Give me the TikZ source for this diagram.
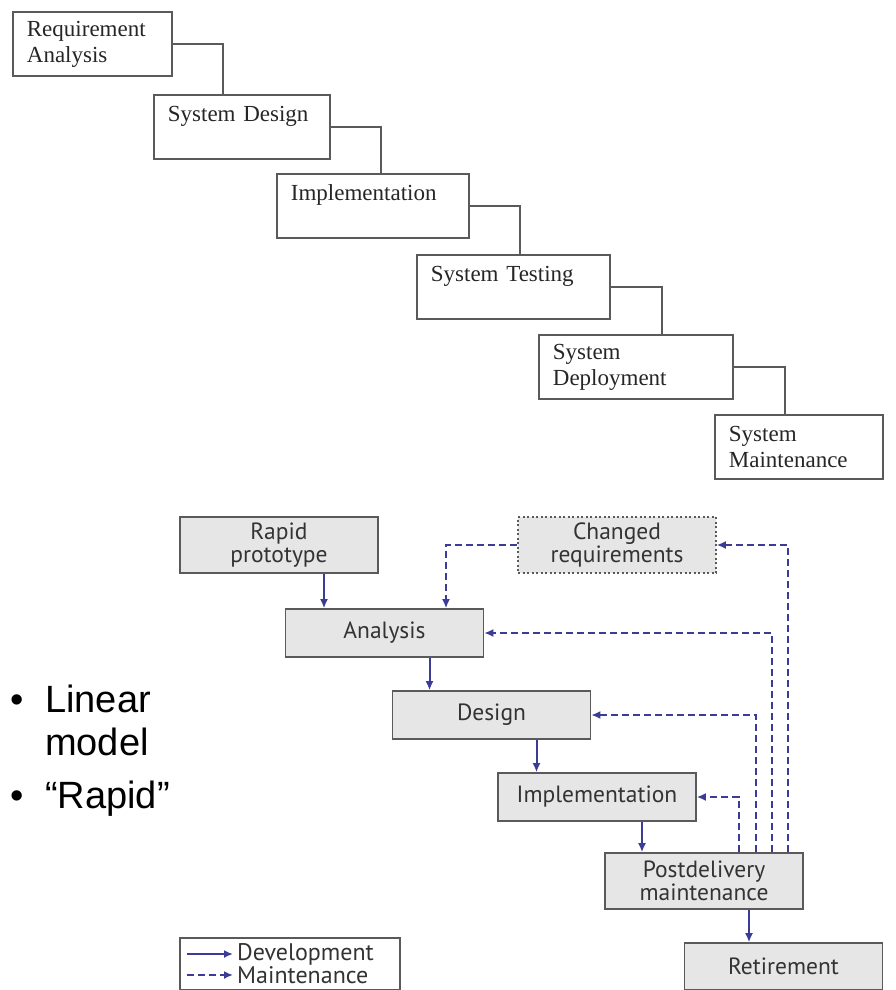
\documentclass[tikz,border=0pt]{standalone}
\usepackage{fontspec}
\usepackage{xcolor}
\usepackage{tikz}
\usetikzlibrary{positioning, arrows.meta}
\newfontfamily\stagefont{Liberation Serif}
\newfontfamily\phasefont{PT Sans}
\newfontfamily\slidefont{Liberation Sans}
\definecolor{flowblue}{RGB}{58,60,150}
\definecolor{boxfill}{RGB}{230,230,230}
\definecolor{boxedge}{RGB}{90,90,90}

\begin{document}
\begin{tikzpicture}[
  x=1pt, y=-1pt, >=Latex,
  stage/.style={draw=boxedge, line width=1.8pt, anchor=north west, align=left,
                minimum height=64pt, inner xsep=14pt, text=black!85,
                font=\stagefont\fontsize{23}{26}\selectfont},
  link/.style={draw=boxedge, line width=1.8pt},
  phase/.style={draw=boxedge, fill=boxfill, line width=1.6pt, align=center,
                minimum width=198pt, minimum height=48pt, text=black!80,
                font=\phasefont\fontsize{23.5}{23}\selectfont},
  chg/.style={phase, dash pattern=on 2pt off 2.5pt},
  dev/.style={flowblue, line width=2pt, arrows={-Latex[length=9pt, width=8pt]}},
  mnt/.style={dev, dash pattern=on 7pt off 4pt},
  legbox/.style={draw=boxedge, line width=1.6pt, minimum width=220pt, minimum height=52pt},
  legtext/.style={inner sep=0pt, text=black!80, font=\phasefont\fontsize{24}{24}\selectfont},
  slide/.style={inner sep=0pt, font=\slidefont\fontsize{38}{43}\selectfont},
]
\useasboundingbox (0,0) rectangle (895,990);

% --- waterfall ---
\node[stage, text width=131pt] (ra) at (12,11) {Requirement\\Analysis};
\node[stage, text width=148pt] (sd) at (153,94) {System Design\\\mbox{}};
\node[stage, text width=164pt] (im) at (276,173) {Implementation\\\mbox{}};
\node[stage, text width=165pt] (st) at (416,254) {System Testing\\\mbox{}};
\node[stage, text width=166pt] (dp) at (538,334) {System\\Deployment};
\node[stage, text width=140pt] (mt) at (714,414) {System\\Maintenance};

\draw[link] (ra.east) -| ([xshift=70pt]sd.north west);
\draw[link] (sd.east) -| ([xshift=105pt]im.north west);
\draw[link] (im.east) -| ([xshift=104pt]st.north west);
\draw[link] (st.east) -| ([xshift=124pt]dp.north west);
\draw[link] (dp.east) -| ([xshift=71pt]mt.north west);

% --- rapid prototyping ---
\node[phase, minimum height=56pt] (proto) at (279,545) {Rapid\\prototype};
\node[chg, minimum height=56pt] (chreq) at (617,545) {Changed\\requirements};
\node[phase] (anal) at (384.5,633) {Analysis};
\node[phase] (design) at (491.5,715) {Design};
\node[phase] (impl) at (597,797) {Implementation};
\node[phase, minimum height=56pt] (post) at (704,881) {Postdelivery\\maintenance};
\node[phase, minimum height=47pt] (retire) at (783.5,966.5) {Retirement};

\draw[dev] ([xshift=45pt]proto.south) -- ([xshift=45pt]proto.south |- anal.north);
\draw[dev] ([xshift=45pt]anal.south) -- ([xshift=45pt]anal.south |- design.north);
\draw[dev] ([xshift=45pt]design.south) -- ([xshift=45pt]design.south |- impl.north);
\draw[dev] ([xshift=45pt]impl.south) -- ([xshift=45pt]impl.south |- post.north);
\draw[dev] ([xshift=45pt]post.south) -- ([xshift=45pt]post.south |- retire.north);

\draw[mnt] (chreq.west) -| ([xshift=61.5pt]anal.north);
\draw[mnt] ([xshift=-65pt]post.north east) |- (impl.east);
\draw[mnt] ([xshift=-48pt]post.north east) |- (design.east);
\draw[mnt] ([xshift=-32pt]post.north east) |- (anal.east);
\draw[mnt] ([xshift=-16pt]post.north east) |- (chreq.east);

% --- legend ---
\node[legbox] (leg) at (290,964) {};
\coordinate (devA) at (187,954);
\coordinate (devB) at (233,954);
\coordinate (mntA) at (187,975);
\coordinate (mntB) at (233,975);
\draw[dev] (devA) -- (devB);
\draw[mnt] (mntA) -- (mntB);
\node[legtext, right=4pt of devB] (devlbl) {Development};
\node[legtext, right=4pt of mntB] (mntlbl) {Maintenance};

% --- bullets ---
\node[slide, anchor=base] (dot1) at (17,712) {•};
\node[slide, anchor=base west] (lin1) at (45,712) {Linear};
\node[slide, anchor=base west] (lin2) at (45,755) {model};
\node[slide, anchor=base] (dot2) at (17,808) {•};
\node[slide, anchor=base west] (rapid) at (45,808) {“Rapid”};
\end{tikzpicture}
\end{document}
